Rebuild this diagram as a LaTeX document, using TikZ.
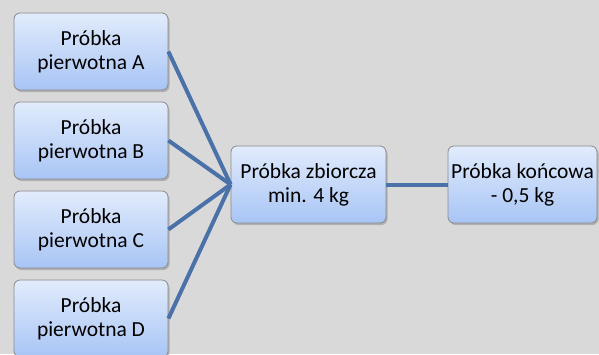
\documentclass[tikz,border=0pt]{standalone}
\usepackage{fontspec}
\setmainfont{Carlito}
\usetikzlibrary{shadows}
\definecolor{bg}{HTML}{D9D9D9}
\definecolor{boxtop}{HTML}{E1EBFC}
\definecolor{boxbot}{HTML}{A8C5F5}
\definecolor{boxline}{HTML}{8A8A8A}
\definecolor{conn}{HTML}{4A72A8}
\tikzset{
  box/.style={draw=boxline, line width=0.8pt, rounded corners=6pt,
    top color=boxtop, bottom color=boxbot, minimum height=77pt,
    align=center, inner sep=1pt,
    font=\fontsize{21.5}{24}\selectfont,
    drop shadow={shadow xshift=1.5pt, shadow yshift=-2pt, opacity=0.35, fill=black!60}},
  conn/.style={draw=conn, line width=4pt}
}
\begin{document}
\begin{tikzpicture}[x=1pt,y=-1pt]
\fill[bg] (0,0) rectangle (599,354);
\useasboundingbox (0,0) rectangle (599,354);
\clip (0,0) rectangle (599,354);
\node[box, minimum width=154pt] (A) at (91,51.5) {Próbka\\pierwotna A};
\node[box, minimum width=154pt] (B) at (91,140.5) {Próbka\\pierwotna B};
\node[box, minimum width=154pt] (C) at (91,229.5) {Próbka\\pierwotna C};
\node[box, minimum width=154pt] (D) at (91,318.5) {Próbka\\pierwotna D};
\node[box, minimum width=155pt] (Z) at (308.5,184.5) {Próbka zbiorcza\\min. 4 kg};
\node[box, minimum width=149pt] (K) at (522.5,184.5) {Próbka końcowa\\- 0,5 kg};
\draw[conn] (A.east) -- (Z.west);
\draw[conn] (B.east) -- (Z.west);
\draw[conn] (C.east) -- (Z.west);
\draw[conn] (D.east) -- (Z.west);
\draw[conn] (Z.east) -- (K.west);
\end{tikzpicture}
\end{document}
